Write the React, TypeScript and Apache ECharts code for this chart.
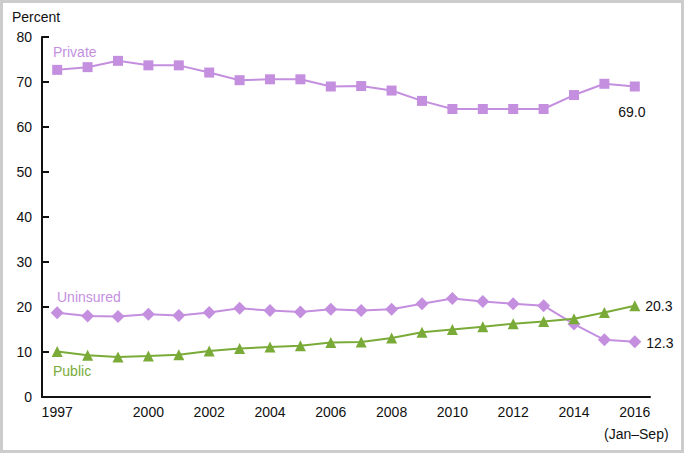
import React, { useEffect, useRef } from "react";
import * as echarts from "echarts";

const years = ["1997","1998","1999","2000","2001","2002","2003","2004","2005","2006","2007","2008","2009","2010","2011","2012","2013","2014","2015","2016"];
const labeledYears = ["1997","2000","2002","2004","2006","2008","2010","2012","2014","2016"];
const privateVals = [72.7,73.3,74.7,73.7,73.7,72.1,70.4,70.6,70.6,69.0,69.1,68.1,65.8,64.0,64.0,64.0,64.0,67.1,69.6,69.0];
const uninsuredVals = [18.7,18.0,17.9,18.4,18.1,18.8,19.7,19.2,18.9,19.5,19.2,19.5,20.7,21.9,21.2,20.7,20.3,16.2,12.7,12.3];
const publicVals = [10.1,9.3,8.9,9.1,9.4,10.2,10.8,11.1,11.4,12.1,12.2,13.1,14.4,15.0,15.6,16.3,16.8,17.4,18.8,20.3];
const yTicks = [0,10,20,30,40,50,60,70,80];

const PURPLE = "#c48fdf";
const GREEN = "#7aab38";
const FONT = "Liberation Sans, Arial, sans-serif";

function withEndLabel(vals: number[], pos: string, offset: number[]) {
  return vals.map((v, i) =>
    i === vals.length - 1
      ? { value: v, label: { show: true, position: pos, offset, formatter: (p: any) => p.value.toFixed(1), color: "#111", fontSize: 14, fontFamily: FONT } }
      : v
  );
}

export default function App() {
  const ref = useRef<HTMLDivElement>(null);
  useEffect(() => {
    const chart = echarts.init(ref.current!, null, { renderer: "svg" });
    chart.setOption({
      animation: false,
      backgroundColor: "#fff",
      grid: { left: 42, right: 35, top: 37, bottom: 57 },
      xAxis: {
        type: "category",
        data: years,
        boundaryGap: true,
        axisLine: { lineStyle: { color: "#111", width: 2 } },
        axisTick: { inside: true, length: 7, alignWithLabel: true, interval: 0, lineStyle: { color: "#111", width: 2 } },
        axisLabel: {
          interval: 0,
          formatter: (v: string) => (labeledYears.includes(v) ? v : ""),
          color: "#111", fontSize: 14, fontFamily: FONT, margin: 8,
        },
      },
      yAxis: {
        type: "value",
        min: yTicks[0], max: yTicks[yTicks.length - 1], interval: 10,
        splitLine: { show: false },
        axisLine: { show: true, lineStyle: { color: "#111", width: 2 } },
        axisTick: { show: true, inside: true, length: 7, lineStyle: { color: "#111", width: 2 } },
        axisLabel: { color: "#111", fontSize: 14, fontFamily: FONT, margin: 10 },
      },
      series: [
        {
          name: "Private", type: "line", data: withEndLabel(privateVals, "bottom", [-3, 8]),
          symbol: "rect", symbolSize: 10, color: PURPLE, lineStyle: { width: 2, color: PURPLE },
        },
        {
          name: "Uninsured", type: "line", data: withEndLabel(uninsuredVals, "right", [0, 1]),
          symbol: "diamond", symbolSize: 13, color: PURPLE, lineStyle: { width: 2, color: PURPLE },
        },
        {
          name: "Public", type: "line", data: withEndLabel(publicVals, "right", [0, 0]),
          symbol: "triangle", symbolSize: 11, color: GREEN, lineStyle: { width: 2, color: GREEN },
        },
      ],
      graphic: [
        { type: "rect", shape: { x: 1.5, y: 1.5, width: 681, height: 450 }, style: { fill: "none", stroke: "#cccccc", lineWidth: 3 }, silent: true },
        { type: "text", left: 12, top: 10, style: { text: "Percent", fontSize: 14, fontFamily: FONT, fill: "#111" } },
        { type: "text", left: 53, top: 45, style: { text: "Private", fontSize: 14, fontFamily: FONT, fill: PURPLE } },
        { type: "text", left: 57, top: 290, style: { text: "Uninsured", fontSize: 14, fontFamily: FONT, fill: PURPLE } },
        { type: "text", left: 53, top: 364, style: { text: "Public", fontSize: 14, fontFamily: FONT, fill: GREEN } },
        { type: "text", left: 604, top: 427, style: { text: "(Jan\u2013Sep)", fontSize: 14, fontFamily: FONT, fill: "#111" } },
      ],
    });
    return () => chart.dispose();
  }, []);
  return <div ref={ref} style={{ position: "fixed", left: 0, top: 0, width: 685, height: 454 }} />;
}
